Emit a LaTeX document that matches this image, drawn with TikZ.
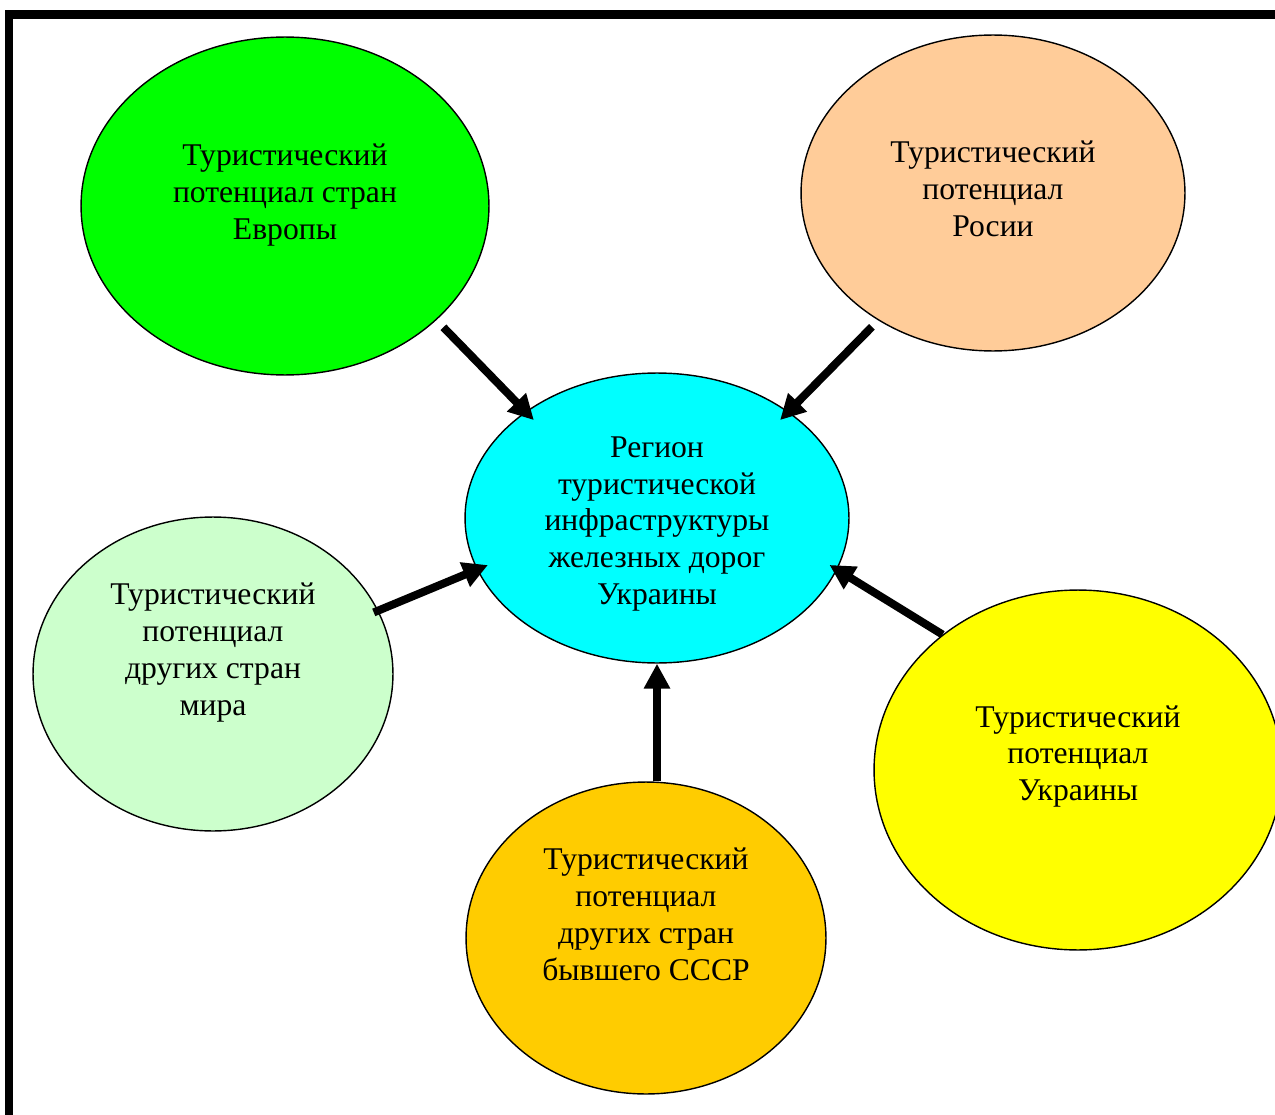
\documentclass[tikz,border=0pt]{standalone}
\usepackage{fontspec}
\setmainfont{Liberation Serif}
\usetikzlibrary{shapes.geometric,arrows.meta}

\definecolor{eugreen}{RGB}{0,255,0}
\definecolor{rupeach}{RGB}{255,204,153}
\definecolor{regcyan}{RGB}{0,255,255}
\definecolor{wogreen}{RGB}{204,255,204}
\definecolor{exorange}{RGB}{255,204,0}
\definecolor{uayellow}{RGB}{255,255,0}

\tikzset{
  bub/.style={ellipse,draw,line width=0.8pt,inner sep=0pt},
  txt/.style={align=center,font=\fontsize{18}{21}\selectfont},
  push/.style={line width=0.16cm,-{Triangle[length=0.5cm,width=0.5cm]}}
}

\begin{document}
\begin{tikzpicture}[x=0.02cm,y=-0.02cm]
  \clip (0,0) rectangle (1275,1115);
  \fill[white] (0,0) rectangle (1275,1115);
  % frame
  \draw[line width=0.18cm] (9,1130) -- (9,14.5) -- (1290,14.5);

  % regions
  \node[bub,fill=eugreen,minimum width=8.16cm,minimum height=6.76cm,
    label={[txt,yshift=0.22cm]center:Туристический\\потенциал стран\\Европы}] (eu) at (285,206) {};
  \node[bub,fill=rupeach,minimum width=7.68cm,minimum height=6.32cm,
    label={[txt,yshift=0.08cm]center:Туристический\\потенциал\\Росии}] (ru) at (993,193) {};
  \node[bub,fill=regcyan,minimum width=7.68cm,minimum height=5.8cm,
    label={[txt,yshift=-0.12cm]center:Регион\\туристической\\инфраструктуры\\железных дорог\\Украины}] (reg) at (657,518) {};
  \node[bub,fill=wogreen,minimum width=7.2cm,minimum height=6.28cm,
    label={[txt,yshift=0.43cm]center:Туристический\\потенциал\\других стран\\мира}] (wo) at (213,674) {};
  \node[bub,fill=exorange,minimum width=7.2cm,minimum height=6.24cm,
    label={[txt,yshift=0.48cm]center:Туристический\\потенциал\\других стран\\бывшего СССР}] (ex) at (646,938) {};
  \node[bub,fill=uayellow,minimum width=8.16cm,minimum height=7.2cm,
    label={[txt,yshift=0.27cm]center:Туристический\\потенциал\\Украины}] (ua) at (1078,770) {};

  % arrows
  \draw[push,shorten <=0.2cm,shorten >=-0.24cm] (eu.-37) -- (reg.141);
  \draw[push,shorten <=0.18cm,shorten >=-0.24cm] (ru.228) -- (reg.39);
  \draw[push,shorten <=-0.1cm,shorten >=-0.24cm] (wo.21) -- (reg.196);
  \draw[push] (reg.south |- ex.north) -- (reg.south);
  \draw[push,shorten >=-0.18cm] (ua.135) -- (reg.344);
\end{tikzpicture}
\end{document}
